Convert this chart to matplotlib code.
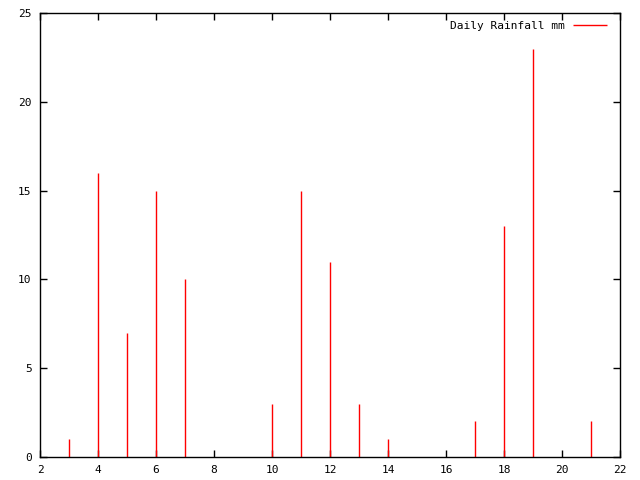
import matplotlib
matplotlib.use("Agg")
import matplotlib.pyplot as plt

days = [3, 4, 5, 6, 7, 8, 9, 10, 11, 12, 13, 14, 15, 16, 17, 18, 19, 20, 21]
rain_mm = [1, 16, 7, 15, 10, 0, 0, 3, 15, 11, 3, 1, 0, 0, 2, 13, 23, 0, 2]

plt.rcParams["font.family"] = "DejaVu Sans Mono"
plt.rcParams["font.size"] = 8

fig = plt.figure(figsize=(6.4, 4.8), dpi=100)
ax = fig.add_axes([40 / 640, 1 - 457 / 480, 580 / 640, 444 / 480])

ax.vlines(days, 0, rain_mm, colors="red", linewidth=1, label="Daily Rainfall mm")

ax.set_xlim(2, 22)
ax.set_ylim(0, 25)
ax.set_xticks(range(2, 23, 2))
ax.set_yticks(range(0, 26, 5))
ax.tick_params(direction="in", length=5, width=1, top=True, right=True,
               labelsize=8, pad=6)
for s in ax.spines.values():
    s.set_linewidth(1)

ax.legend(loc="upper right", bbox_to_anchor=(1 - 5 / 580, 1),
          frameon=False, markerfirst=False,
          handlelength=3.05, fontsize=8, borderaxespad=0.3)

fig.savefig("out.png", dpi=100)
